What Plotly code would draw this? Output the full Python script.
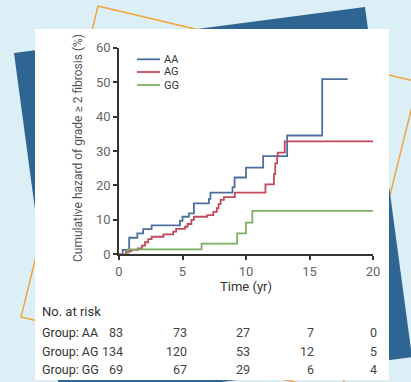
import plotly.graph_objects as go

# ---- data ----
t_AA = [0, 0.29, 0.8, 1.44, 1.9, 2.57, 4.8, 5.0, 5.5, 5.9, 7.08, 7.2, 8.94, 9.1, 10.0, 11.35, 13.24, 16.0, 18.0]
h_AA = [0, 1.3, 4.8, 6.1, 7.3, 8.4, 9.7, 10.9, 11.9, 14.8, 16.1, 17.9, 19.5, 22.3, 25.2, 28.5, 34.5, 50.9, 50.9]

t_AG = [0, 0.55, 0.85, 1.0, 1.5, 1.8, 2.05, 2.3, 2.57, 3.5, 4.27, 4.5, 5.2, 5.4, 5.7, 5.9,
        6.95, 7.42, 7.7, 7.84, 8.0, 8.26, 9.12, 11.53, 12.2, 12.3, 12.45, 12.5, 13.05, 20]
h_AG = [0, 0.7, 1.0, 1.3, 1.7, 2.5, 3.5, 4.4, 5.1, 5.8, 6.6, 7.4, 8.0, 8.8, 10.0, 10.9,
        11.4, 12.3, 13.4, 14.6, 15.8, 16.6, 17.9, 20.3, 23.3, 26.4, 28.4, 29.5, 32.8, 32.8]

t_GG = [0, 0.7, 6.5, 9.3, 10.0, 10.5, 20]
h_GG = [0, 1.45, 3.1, 6.1, 9.2, 12.6, 12.6]

groups = ["AA", "AG", "GG"]
colors = ["#4d6f9e", "#c24a5c", "#7fae63"]
risk_times = [0, 5, 10, 15, 20]
risk_AA = [83, 73, 27, 7, 0]
risk_AG = [134, 120, 53, 12, 5]
risk_GG = [69, 67, 29, 6, 4]

x_ticks = [0, 5, 10, 15, 20]
y_ticks = [0, 10, 20, 30, 40, 50, 60]

W, H = 411, 382
FONT = "Roboto, Liberation Sans, sans-serif"


def px(x):
    return x / W


def py(y):
    return 1 - y / H


def poly(points):
    d = "M " + " L ".join(f"{px(a):.5f},{py(b):.5f}" for a, b in points) + " Z"
    return d


fig = go.Figure()
for name, tt, hh, c in zip(groups, [t_AA, t_AG, t_GG], [h_AA, h_AG, h_GG], colors):
    fig.add_trace(go.Scatter(x=tt, y=hh, mode="lines", name=name, showlegend=False,
                             line=dict(color=c, width=1.8, shape="hv")))

shapes = [
    # orange outline
    dict(type="path", path=poly([(98, 6), (418, 82), (341, 393), (21, 317)]),
         xref="paper", yref="paper", line=dict(color="#f0a23a", width=1.4),
         fillcolor="rgba(0,0,0,0)", layer="below"),
    # dark blue card
    dict(type="path", path=poly([(14, 53), (365, 7), (412, 357), (61, 403)]),
         xref="paper", yref="paper", line=dict(width=0),
         fillcolor="#2f6592", layer="below"),
    # white panel
    dict(type="rect", x0=px(35), x1=px(389), y0=py(380), y1=py(29),
         xref="paper", yref="paper", line=dict(width=0),
         fillcolor="#ffffff", layer="below"),
]

# manual legend (compact spacing as in the reference)
legend_y = [59.3, 72, 85]
for g, c, ly in zip(groups, colors, legend_y):
    shapes.append(dict(type="line", x0=px(137), x1=px(160), y0=py(ly), y1=py(ly),
                       xref="paper", yref="paper", line=dict(color=c, width=1.8)))

annotations = [
    dict(text="Cumulative hazard of grade \u2265 2 fibrosis (%)", x=px(78), y=py(148),
         xref="paper", yref="paper", textangle=-90, showarrow=False,
         font=dict(family=FONT, size=12, color="#555555"), xanchor="center", yanchor="middle"),
    dict(text="Time (yr)", x=10, y=py(286), xref="x", yref="paper", showarrow=False,
         font=dict(family=FONT, size=13, color="#333333"), xanchor="center", yanchor="middle"),
    dict(text="No. at risk", x=px(40), y=py(311), xref="paper", yref="paper", showarrow=False,
         font=dict(family=FONT, size=13, color="#333333"), xanchor="left", yanchor="middle"),
]
for g, ly in zip(groups, legend_y):
    annotations.append(dict(text=g, x=px(162), y=py(ly), xref="paper", yref="paper",
                            showarrow=False, xanchor="left", yanchor="middle",
                            font=dict(family=FONT, size=11, color="#333333")))

row_y = [332, 351, 369.5]
for g, vals, yy in zip(groups, [risk_AA, risk_AG, risk_GG], row_y):
    annotations.append(dict(text=f"Group: {g}", x=px(40), y=py(yy), xref="paper", yref="paper",
                            showarrow=False, xanchor="left", yanchor="middle",
                            font=dict(family=FONT, size=12.5, color="#333333")))
    for t, v in zip(risk_times, vals):
        annotations.append(dict(text=str(v), x=t, y=py(yy), xref="x", yref="paper",
                                showarrow=False, xanchor="right", yanchor="middle", xshift=6,
                                font=dict(family=FONT, size=12.5, color="#444444")))

axis_common = dict(showgrid=False, zeroline=False, showline=True, linecolor="#333333",
                   linewidth=1.5, ticks="outside", ticklen=4, tickcolor="#333333",
                   tickwidth=1.5, automargin=False,
                   tickfont=dict(family=FONT, size=13, color="#666666"))

fig.update_layout(
    width=W, height=H,
    margin=dict(l=0, r=0, t=0, b=0),
    paper_bgcolor="#ddeff6",
    plot_bgcolor="rgba(0,0,0,0)",
    shapes=shapes,
    annotations=annotations,
    showlegend=False,
    xaxis=dict(domain=[px(119), px(373)], range=[0, 20], tickvals=x_ticks, **axis_common),
    yaxis=dict(domain=[1 - 254.3 / H, 1 - 47.7 / H], range=[0, 60], tickvals=y_ticks, **axis_common),
)

fig.write_html("out.html", config={"displayModeBar": False},
               post_script="document.body.style.margin='0';document.body.style.overflow='hidden';")
